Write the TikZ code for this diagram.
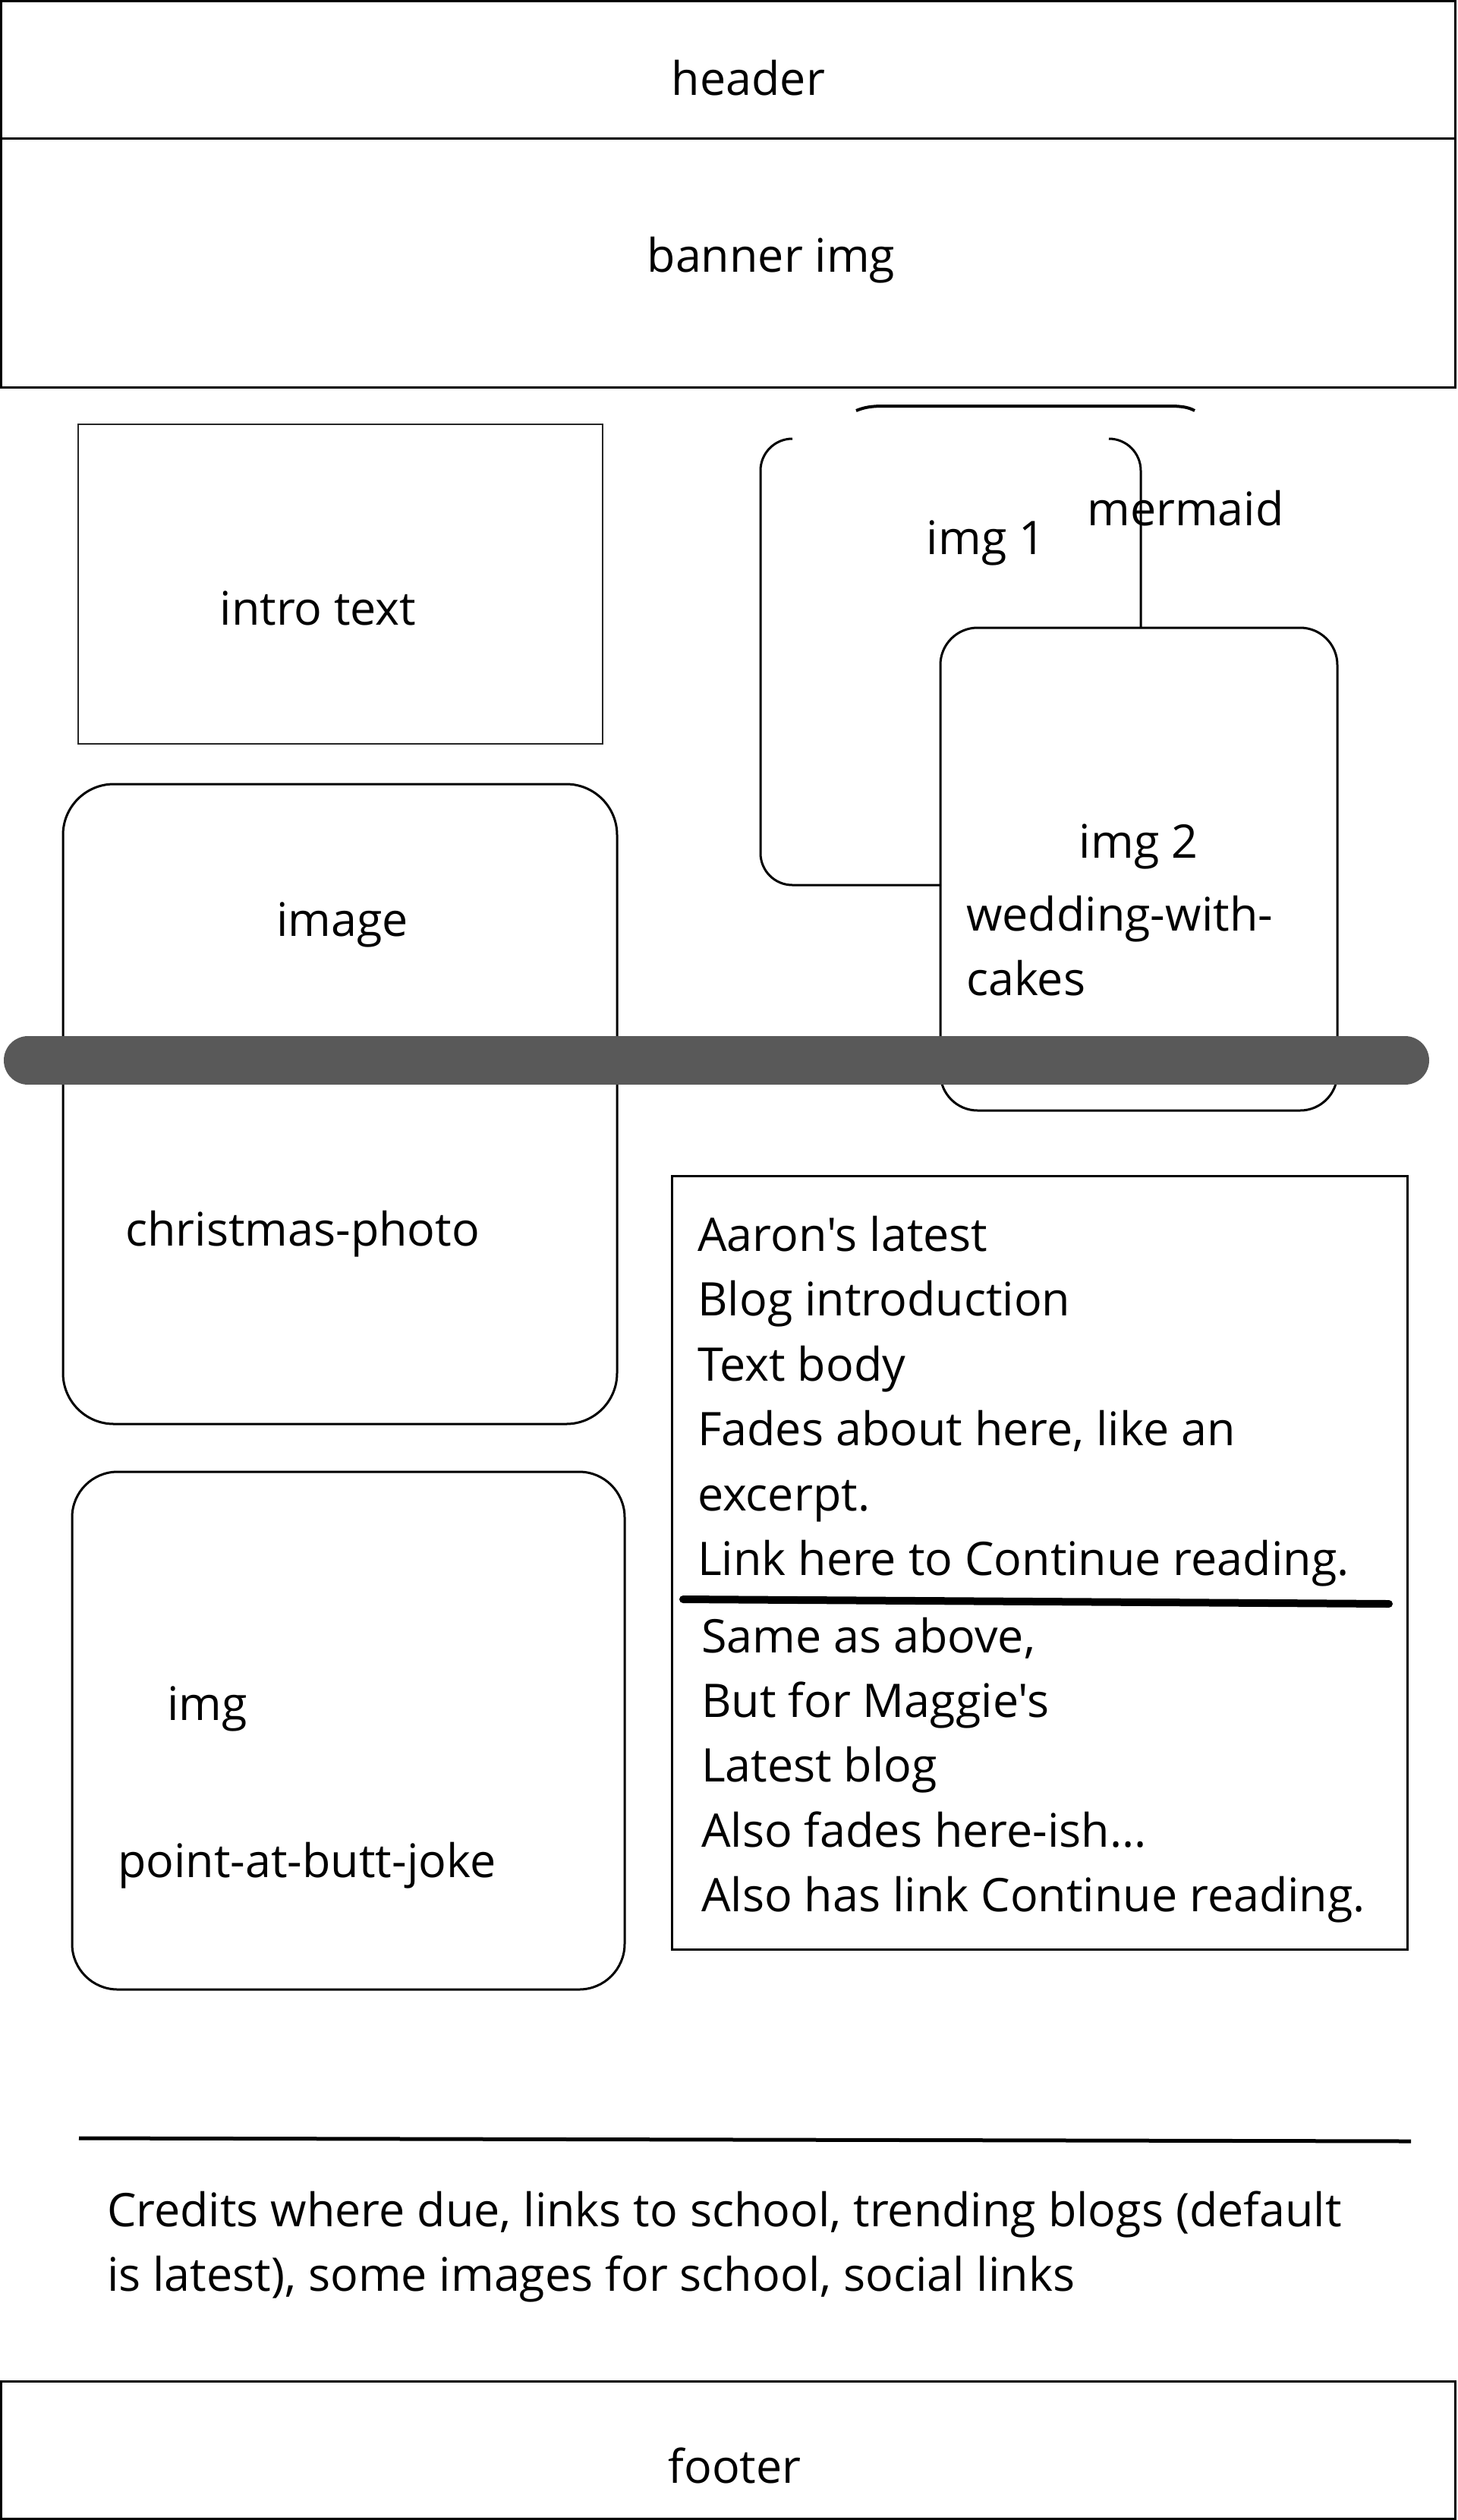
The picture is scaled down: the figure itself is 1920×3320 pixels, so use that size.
\documentclass[tikz,border=0pt]{standalone}
\usepackage{fontspec}
\newfontfamily\osans{Open Sans}
\definecolor{barg}{HTML}{595959}
\newcommand{\lblfont}{\osans\fontsize{61}{85}\selectfont}
\begin{document}
\begin{tikzpicture}[x=1pt,y=-1pt,
  box/.style={draw, line width=3pt, inner sep=0pt, outer sep=0pt, fill=white},
  lbl/.style={font=\lblfont, inner sep=0pt, anchor=base},
  lbll/.style={lbl, anchor=base west}]
\useasboundingbox[fill=white] (0,0) rectangle (1920,3320);

% header and banner
\node[box, minimum width=1916pt, minimum height=180.5pt] (header) at (959.5,91.75) {};
\node[box, minimum width=1916pt, minimum height=328pt] (banner) at (959.5,346) {};
\node[lbl] (headert) at (986,125) {header};
\node[lbl] (bannert) at (1016,358) {banner img};

% intro text
\node[box, line width=2pt, draw=black!85, minimum width=691pt, minimum height=421pt] (intro) at (448.5,769.5) {};
\node[lbl] (introt) at (419,823) {intro text};

% mermaid box (only its top edge shows)
\draw[line width=4pt] (1128,541) .. controls (1140,536) and (1150,535) .. (1165,535) -- (1540,535) .. controls (1555,535) and (1565,536) .. (1574,541);

% img 1 (top edge hidden)
\draw[line width=3pt, rounded corners=42pt] (1044,578) -- (1002,578) -- (1002,1166) -- (1503,1166) -- (1503,578) -- (1461,578);
\node[lbl] (img1t) at (1299,730) {img 1};
\node[lbl] (mermaidt) at (1562,692) {mermaid};

% img 2
\node[box, rounded corners=49pt, minimum width=523pt, minimum height=636pt] (img2) at (1500.5,1145) {};
\node[lbl] (img2t) at (1500,1130) {img 2};
\node[lbll] (wedding) at (1273,1226) {wedding-with-};
\node[lbll] (cakes) at (1273,1311) {cakes};

% image / christmas
\node[box, rounded corners=67pt, minimum width=730pt, minimum height=843pt] (image) at (448,1454.5) {};
\node[lbl] (imaget) at (451,1233) {image};
\node[lbll] (xmas) at (165,1641) {christmas-photo};

% thick grey bar
\draw[line width=64pt, line cap=round, draw=barg] (37,1397) -- (1851,1397);

% img / point-at-butt-joke
\node[box, rounded corners=60pt, minimum width=728pt, minimum height=682pt] (imgbox) at (459,2280) {};
\node[lbl] (imgt) at (273,2266) {img};
\node[lbll] (butt) at (155,2473) {point-at-butt-joke};

% blog box
\node[box, minimum width=969pt, minimum height=1019pt] (blog) at (1369.5,2058.5) {};
\node[lbll] (b1) at (919,1648) {Aaron's latest};
\node[lbll] (b2) at (919,1733.5) {Blog introduction};
\node[lbll] (b3) at (919,1819) {Text body};
\node[lbll] (b4) at (919,1904.5) {Fades about here, like an};
\node[lbll] (b5) at (919,1990) {excerpt.};
\node[lbll] (b6) at (919,2075.5) {Link here to Continue reading.};
\draw[line width=10pt, line cap=round] (900,2107) -- (1830,2113);
\node[lbll] (m1) at (924,2177) {Same as above,};
\node[lbll] (m2) at (924,2262) {But for Maggie's};
\node[lbll] (m3) at (924,2347) {Latest blog};
\node[lbll] (m4) at (924,2433) {Also fades here-ish...};
\node[lbll] (m5) at (924,2518) {Also has link Continue reading.};

% divider and credits
\draw[line width=5pt] (104,2817) -- (1859,2821);
\node[lbll] (c1) at (141,2933) {Credits where due, links to school, trending blogs (default};
\node[lbll] (c2) at (141,3018) {is latest), some images for school, social links};

% footer
\node[box, minimum width=1916pt, minimum height=181pt] (footer) at (959.5,3227.5) {};
\node[lbl] (footert) at (968,3271) {footer};
\end{tikzpicture}
\end{document}
